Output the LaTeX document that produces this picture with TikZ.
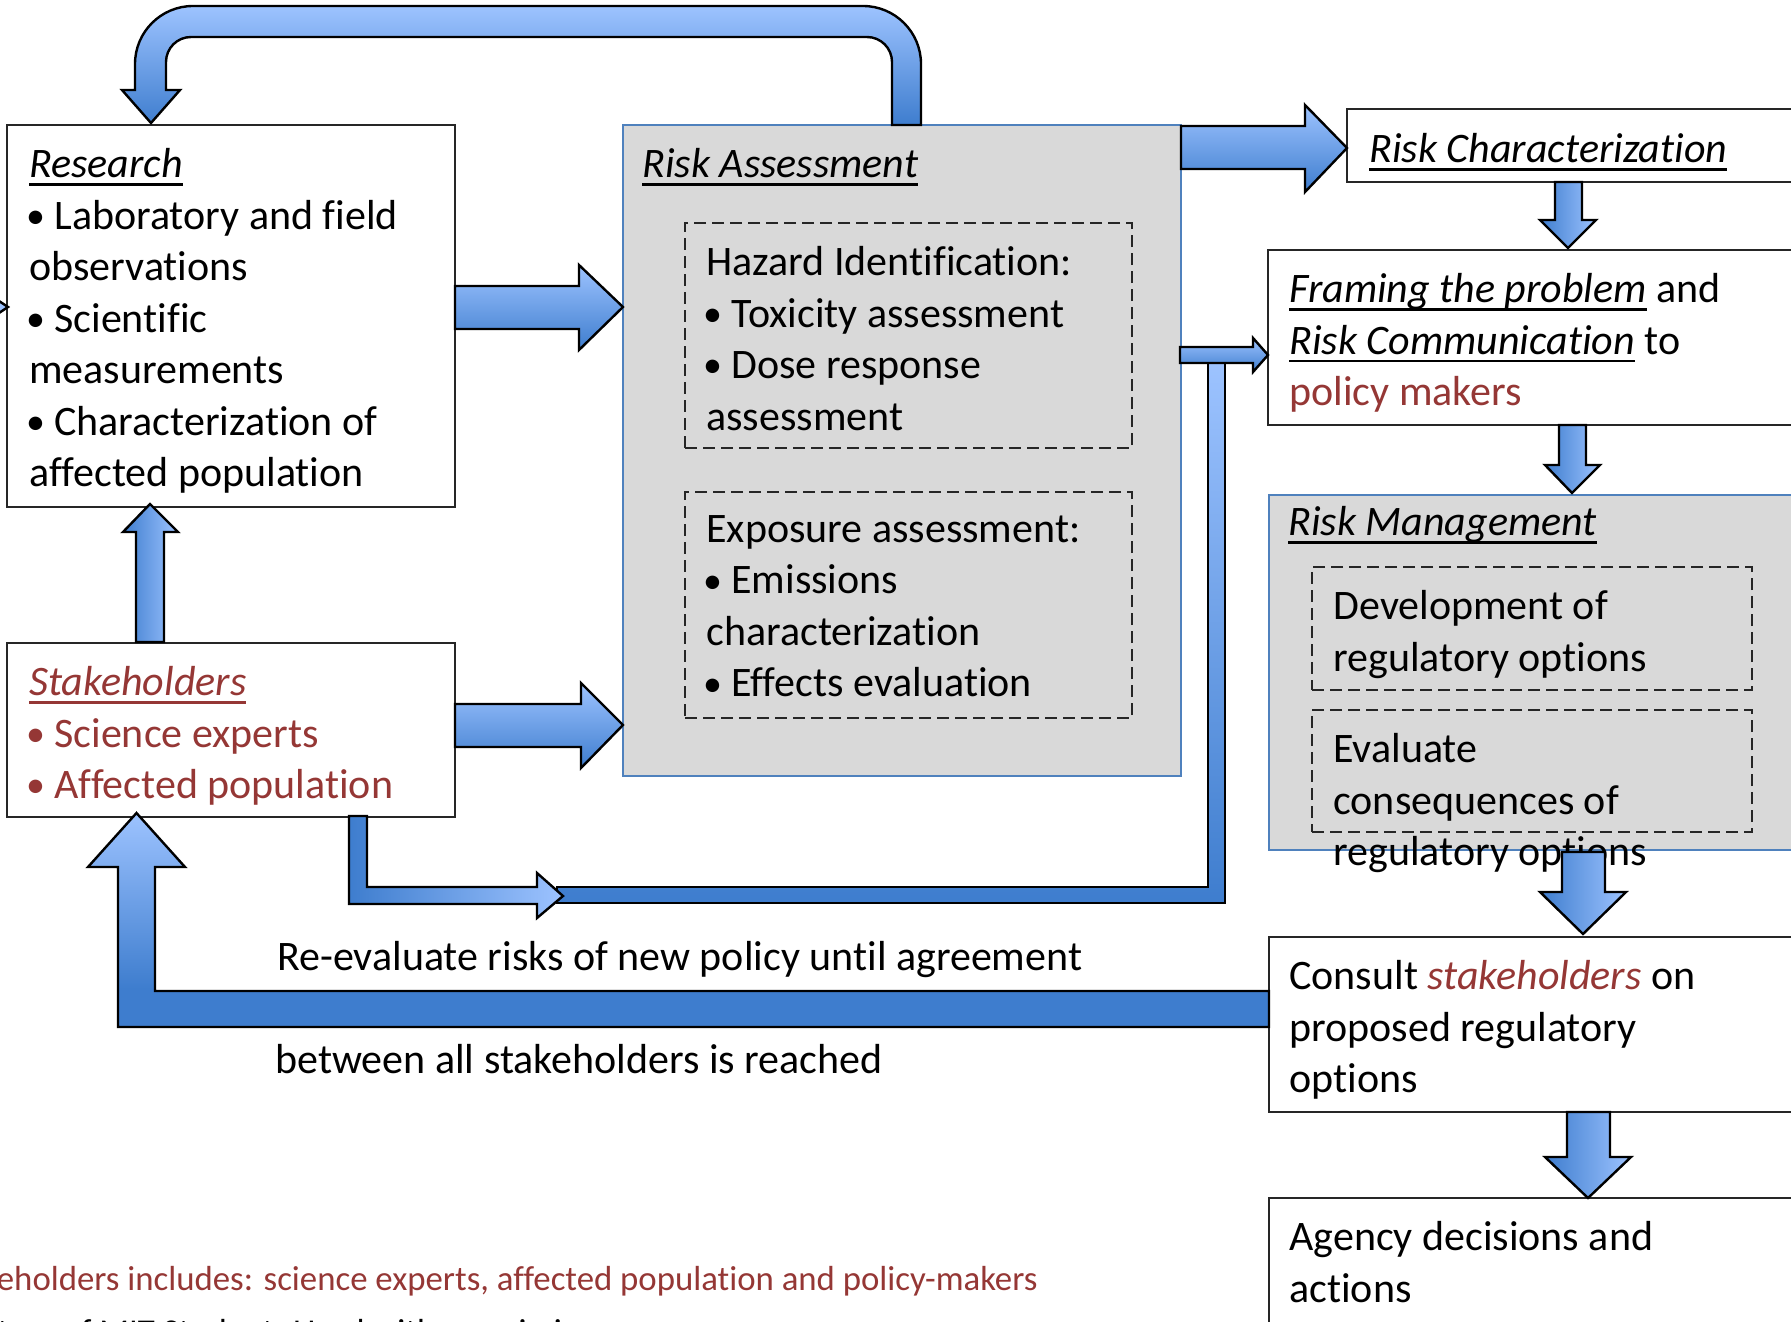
\documentclass[tikz,border=0pt]{standalone}
\usepackage{fontspec}
\setmainfont{Carlito}[Ligatures=NoCommon]
\usetikzlibrary{fit}
\definecolor{alight}{RGB}{157,195,255}
\definecolor{adark}{RGB}{62,125,206}
\definecolor{boxgray}{RGB}{217,217,217}
\definecolor{boxblue}{RGB}{79,129,189}
\definecolor{redtxt}{RGB}{149,55,53}
\pgfdeclareverticalshading{loopshade}{100bp}{color(0bp)=(adark); color(34bp)=(adark); color(75bp)=(alight); color(100bp)=(alight)}
\newcommand\myul[1]{\setbox0=\hbox{#1}\rlap{\rule[-4.2pt]{\wd0}{1.3pt}}\box0\relax}
\newcommand\bul{\makebox[12.5pt][l]{\hspace{-1.6pt}\raisebox{0.4pt}{\fontsize{19pt}{20pt}\selectfont\textbullet}}}
\newcommand\bodyfont{\fontsize{21pt}{25.75pt}\selectfont}
\newcommand\footfont{\fontsize{17.4pt}{21pt}\selectfont}
\begin{document}
\begin{tikzpicture}[x=0.5pt,y=-0.5pt,
  wbox/.style={draw=black!85, fill=white, line width=1pt, inner sep=0pt},
  gbox/.style={draw=boxblue, fill=boxgray, line width=1pt, inner sep=0pt},
  dbox/.style={draw=black!85, dash pattern=on 6pt off 3pt, line width=0.8pt, inner sep=0pt},
  arr/.style={draw=black, line width=1.2pt, line join=miter},
  vgrad/.style={top color=alight, bottom color=adark},
  hgrad/.style={left color=adark, right color=alight},
  txt/.style={anchor=north west, inner sep=0pt, align=left, font=\bodyfont, execute at begin node=\strut},
  foot/.style={anchor=base west, inner sep=0pt, font=\footfont}]
\useasboundingbox (0,0) rectangle (1791,1321);
\clip (0,0) rectangle (1791,1321);
\fill[white] (0,0) rectangle (1791,1321);

% boxes
\node[wbox, fit={(7,125)(455,507)}] (research) {};
\node[wbox, fit={(7,643)(455,817)}] (stake) {};
\node[gbox, fit={(623,125)(1181,776)}] (ra) {};
\node[dbox, fit={(685,223)(1132,448)}] (hazard) {};
\node[dbox, fit={(685,492)(1132,718)}] (expo) {};
\node[wbox, fit={(1347,109)(1810,182)}] (rc) {};
\node[wbox, fit={(1268,250)(1810,425)}] (frame) {};
\node[gbox, fit={(1269,495)(1810,850)}] (rm) {};
\node[dbox, fit={(1312,567)(1752,690)}] (dev) {};
\node[dbox, fit={(1312,710)(1752,832)}] (evalc) {};
\node[wbox, fit={(1269,937)(1810,1112)}] (consult) {};
\node[wbox, fit={(1269,1198)(1810,1340)}] (agency) {};

% top loop arrow RA -> Research
\path[arr, vgrad] (892,125) -- (892,62) .. controls (892,48.2) and (880.8,37) .. (867,37)
  -- (191,37) .. controls (177.2,37) and (166,48.2) .. (166,62) -- (166,90) -- (180,90)
  -- (151,123) -- (122,90) -- (135,90) -- (135,64) .. controls (135,32) and (161,6) .. (193,6)
  -- (863,6) .. controls (895,6) and (921,32) .. (921,64) -- (921,125) -- cycle;

% small arrow tip at left edge
\path[arr, fill=alight] (-25,285) -- (8,307) -- (-25,329) -- cycle;

% Research -> RA
\path[arr, vgrad] (455,286) -- (579,286) -- (579,265) -- (623,307) -- (579,350) -- (579,329) -- (455,329) -- cycle;
% Stakeholders -> RA
\path[arr, vgrad] (455,704) -- (581,704) -- (581,683) -- (623,725) -- (581,768) -- (581,747) -- (455,747) -- cycle;
% RA -> Risk Characterization
\path[arr, vgrad] (1181,126) -- (1305,126) -- (1305,105) -- (1347,148) -- (1305,192) -- (1305,169) -- (1181,169) -- cycle;
% RC -> Framing
\path[arr, hgrad] (1555,182) -- (1582,182) -- (1582,220) -- (1596,220) -- (1568,248) -- (1540,220) -- (1555,220) -- cycle;
% Framing -> RM
\path[arr, hgrad] (1559,425) -- (1586,425) -- (1586,465) -- (1600,465) -- (1572,493) -- (1545,465) -- (1559,465) -- cycle;
% Consult -> Agency
\path[arr, hgrad] (1567,1112) -- (1610,1112) -- (1610,1157) -- (1631,1157) -- (1588,1198) -- (1545,1157) -- (1567,1157) -- cycle;
% Stakeholders -> Research (up)
\path[arr, hgrad] (136,642) -- (136,532) -- (123,532) -- (150,504) -- (178,532) -- (164,532) -- (164,642) -- cycle;

% L bar to framing
\path[arr, vgrad] (557,887) -- (1208,887) -- (1208,363) -- (1225,363) -- (1225,903) -- (557,903) -- cycle;
% bent arrow from stakeholders
\path[arr, hgrad] (349,816) -- (367,816) -- (367,887) -- (537,887) -- (537,873) -- (563,896) -- (537,918) -- (537,904) -- (349,904) -- cycle;
% narrow arrow RA -> Framing
\path[arr, vgrad] (1180,347) -- (1253,347) -- (1253,338) -- (1268,355) -- (1253,372) -- (1253,363) -- (1180,363) -- cycle;
% big loop arrow Consult -> Stakeholders
\path[arr, shading=loopshade] (1269,991) -- (155,991) -- (155,867) -- (185,867) -- (136.5,813) -- (88,867) -- (118,867) -- (118,1027) -- (1269,1027) -- cycle;

% texts
\node[txt] (tresearch) at (29,148) {\myul{\textit{Research}}\\ \bul Laboratory and field\\ observations\\ \bul Scientific\\ measurements\\ \bul Characterization of\\ affected population};
\node[txt] (tra) at (642,141) {\myul{\textit{Risk Assessment}}};
\node[txt] (thazard) at (706,246) {Hazard Identification:\\ \bul Toxicity assessment\\ \bul Dose response\\ assessment};
\node[txt] (texpo) at (706,515) {Exposure assessment:\\ \bul Emissions\\ characterization\\ \bul Effects evaluation};
\node[txt] (trc) at (1369,126) {\myul{\textit{Risk Characterization}}};
\node[txt] (tframe) at (1289,273) {\myul{\textit{Framing the problem}} and\\ \myul{\textit{Risk Communication}} to\\ \textcolor{redtxt}{policy makers}};
\node[txt] (trm) at (1288,499) {\myul{\textit{Risk Management}}};
\node[txt] (tdev) at (1333,590) {Development of\\ regulatory options};
\node[txt] (teval) at (1333,733) {Evaluate\\ consequences of\\ regulatory options};
\node[txt] (tconsult) at (1289,960) {Consult \textcolor{redtxt}{\textit{stakeholders}} on\\ proposed regulatory\\ options};
\node[txt] (tagency) at (1289,1221) {Agency decisions and\\ actions};
\node[txt, text=redtxt] (tstake) at (29,666) {\myul{\textit{Stakeholders}}\\ \bul Science experts\\ \bul Affected population};
\node[txt] (treeval) at (277,934) {Re-evaluate risks of new policy until agreement};
\node[txt] (tbetween) at (275,1037) {between all stakeholders is reached};
\node[foot, anchor=base east, text=redtxt] (tfoot1) at (1038,1290) {eholders includes: science experts, affected population and policy-makers};
\node[foot] (tfoot2) at (-3,1343) {tesy of MIT Student. Used with permission.};

% RM -> Consult (drawn over text)
\path[arr, hgrad] (1562,852) -- (1605,852) -- (1605,892) -- (1626,892) -- (1583,934) -- (1540,892) -- (1562,892) -- cycle;
\end{tikzpicture}
\end{document}
